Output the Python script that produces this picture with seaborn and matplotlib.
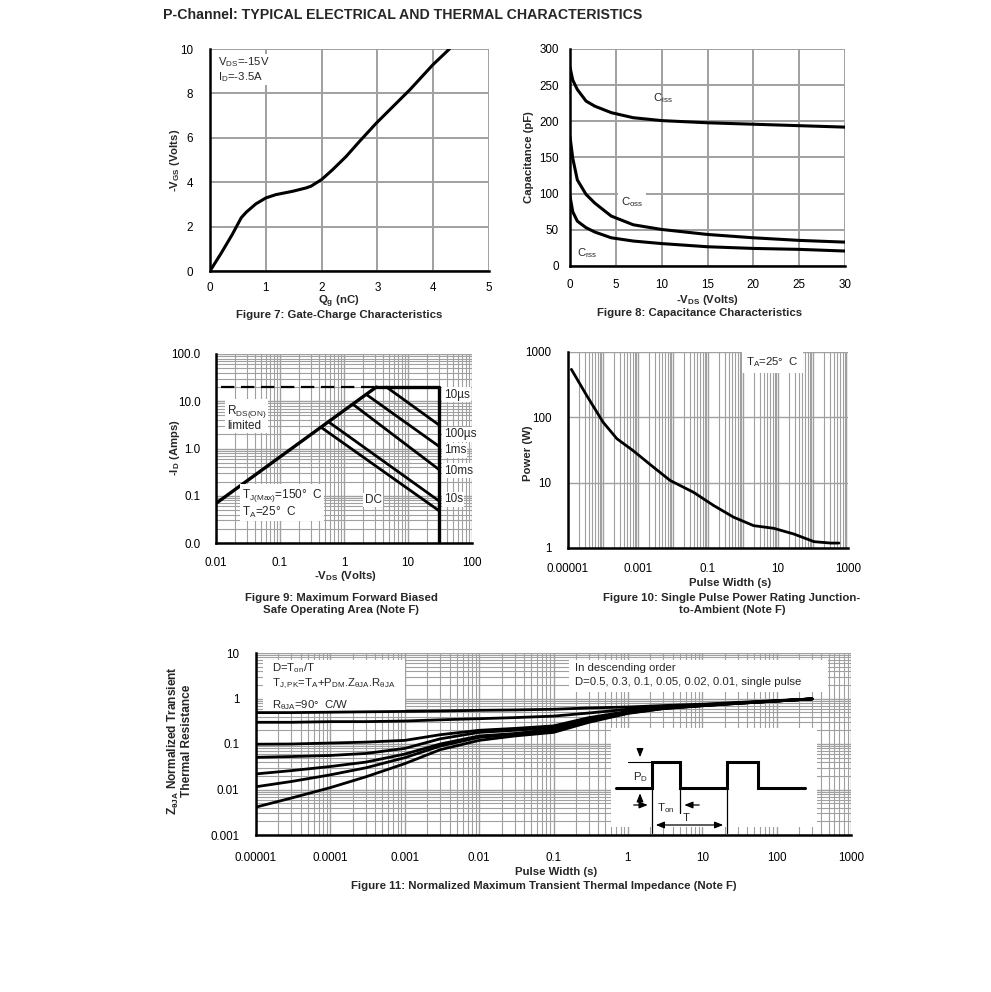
import matplotlib
matplotlib.use('Agg')
import matplotlib.pyplot as plt
from matplotlib.ticker import LogLocator, NullFormatter
from matplotlib.patches import Rectangle
import numpy as np
import seaborn as sns

sns.set_style('white')
plt.rcParams['font.family'] = ['Liberation Sans', 'DejaVu Sans']
plt.rcParams['mathtext.fontset'] = 'custom'
plt.rcParams['mathtext.rm'] = 'Liberation Sans'
plt.rcParams['mathtext.default'] = 'regular'

# Figure 7: gate charge
qg = [0, 0.2, 0.4, 0.56, 0.65, 0.82, 1.0, 1.18, 1.48, 1.72, 1.81, 2.0, 2.2,
      2.44, 2.68, 2.98, 3.28, 3.58, 3.99, 4.29]
vgs = [0, 0.8, 1.65, 2.4, 2.65, 3.02, 3.29, 3.44, 3.59, 3.74, 3.82, 4.12, 4.57,
       5.16, 5.84, 6.66, 7.41, 8.16, 9.28, 10.0]

# Figure 8: capacitance
vds = [0, 0.3, 0.8, 1.75, 2.7, 4.5, 6.9, 10, 15, 20, 25, 30]
ciss = [275, 257, 244, 228, 221, 212, 205, 201, 198, 196, 194, 192]
coss = [179, 149, 119, 99, 87, 69, 57, 50.5, 43.6, 39, 35.4, 33]
crss = [96.5, 75, 62, 53, 47, 39, 34.5, 31, 26.6, 24.3, 23, 20.7]

# Figure 9: safe operating area
rds_v = [0.01, 3.2]
rds_i = [0.069, 20]
dash_v = [0.012, 3.2]
dash_i = [20, 20]
bound_v = [3.2, 30, 30]
bound_i = [20, 20, 0.01]
pulse_v0 = [4.6, 2.25, 1.4, 0.6, 0.45]
pulse_i0 = [20, 13.8, 8.5, 3.5, 2.74]
pulse_v1 = [30, 30, 30, 30, 30]
pulse_i1 = [3.2, 1.13, 0.365, 0.079, 0.049]
soa_labels = ['10\u00b5s', '100\u00b5s', '1ms', '10ms', '10s']
soa_label_i = [13.7, 2.0, 0.91, 0.336, 0.085]

# Figure 10: single pulse power
pw_t = [1.25e-5, 3.4e-5, 1e-4, 2.5e-4, 7.2e-4, 2.75e-3, 8.3e-3, 3.9e-2, 0.145,
        0.54, 2.0, 7.6, 28, 107, 316, 550]
power = [542, 217, 84.5, 47, 31, 17.3, 10.8, 7.1, 4.47, 2.96, 2.2, 2.0, 1.64,
         1.25, 1.19, 1.19]

# Figure 11: transient thermal impedance
zt = [1e-5, 3e-5, 1e-4, 3e-4, 1e-3, 3e-3, 1e-2, 3e-2, 0.1, 0.3, 1, 3, 10, 30, 100, 300]
z_d05 = [0.49, 0.49, 0.50, 0.51, 0.52, 0.53, 0.55, 0.56, 0.58, 0.62, 0.65, 0.70, 0.75, 0.82, 0.90, 0.98]
z_d03 = [0.30, 0.30, 0.31, 0.31, 0.32, 0.34, 0.36, 0.38, 0.41, 0.48, 0.58, 0.66, 0.73, 0.80, 0.89, 0.98]
z_d01 = [0.099, 0.10, 0.105, 0.11, 0.12, 0.16, 0.20, 0.22, 0.25, 0.38, 0.52, 0.63, 0.71, 0.79, 0.88, 0.98]
z_d005 = [0.051, 0.053, 0.056, 0.062, 0.08, 0.13, 0.18, 0.20, 0.23, 0.35, 0.50, 0.62, 0.70, 0.79, 0.88, 0.98]
z_d002 = [0.022, 0.026, 0.032, 0.040, 0.060, 0.10, 0.15, 0.17, 0.21, 0.33, 0.49, 0.61, 0.70, 0.79, 0.88, 0.98]
z_d001 = [0.0115, 0.015, 0.021, 0.030, 0.050, 0.09, 0.14, 0.16, 0.20, 0.32, 0.48, 0.60, 0.70, 0.78, 0.88, 0.98]
z_single = [0.0041, 0.0065, 0.011, 0.019, 0.037, 0.075, 0.12, 0.15, 0.18, 0.30, 0.47, 0.60, 0.69, 0.78, 0.88, 0.98]

W, H = 991, 992
fig = plt.figure(figsize=(W / 100, H / 100), dpi=100)
GRID = '#a0a0a0'
TICK = 8.4
LAB = 8.2
TXT = 8.2


def place(l, t, r, b):
    return fig.add_axes([l / W, 1 - b / H, (r - l) / W, (b - t) / H])


def ftext(x, y, s, **kw):
    kw.setdefault('fontsize', LAB)
    kw.setdefault('ha', 'center')
    kw.setdefault('va', 'center')
    fig.text(x / W, 1 - y / H, s, **kw)


def style(ax, xpad=10, ypad=9):
    for s in ['top', 'right']:
        ax.spines[s].set_visible(False)
    for s in ['left', 'bottom']:
        ax.spines[s].set_color('black')
        ax.spines[s].set_linewidth(1.8)
        ax.spines[s].set_zorder(5)
    ax.tick_params(which='both', length=0, labelsize=TICK, colors='black')
    ax.tick_params(axis='x', pad=xpad)
    ax.tick_params(axis='y', pad=ypad)
    ax.set_xlabel('')
    ax.set_ylabel('')


def line(ax, x, y, **kw):
    kw.setdefault('color', 'black')
    kw.setdefault('lw', 2)
    sns.lineplot(x=x, y=y, ax=ax, sort=False, estimator=None, **kw)


def log_grid(ax, xminor=True, yminor=True):
    loc = lambda: LogLocator(base=10, subs=np.arange(2, 10), numticks=100)
    if xminor:
        ax.xaxis.set_minor_locator(loc())
    if yminor:
        ax.yaxis.set_minor_locator(loc())
    ax.xaxis.set_minor_formatter(NullFormatter())
    ax.yaxis.set_minor_formatter(NullFormatter())
    ax.grid(True, which='major', color=GRID, lw=1.0)
    if xminor:
        ax.grid(True, which='minor', axis='x', color=GRID, lw=0.8)
    if yminor:
        ax.grid(True, which='minor', axis='y', color=GRID, lw=0.8)
    ax.set_axisbelow(True)


ftext(163, 15, 'P-Channel: TYPICAL ELECTRICAL AND THERMAL CHARACTERISTICS',
      fontsize=10.2, fontweight='bold', ha='left')

# ---- Figure 7
ax = place(210, 49, 489, 271)
line(ax, qg, vgs, lw=2.2)
ax.set_xlim(0, 5)
ax.set_ylim(0, 10)
ax.set_xticks(range(6))
ax.set_yticks(range(0, 11, 2))
ax.grid(True, color=GRID, lw=1.4)
style(ax, xpad=8, ypad=12)
ax.text(0.03, 0.97, 'V$_{DS}$=-15V\nI$_D$=-3.5A', transform=ax.transAxes,
        fontsize=TXT, va='top', ha='left', linespacing=1.05,
        bbox=dict(facecolor='white', edgecolor='none', pad=1))
ftext(175, 160, '-V$_{GS}$ (Volts)', rotation=90, fontweight='bold')
ftext(339, 302, 'Q$_g$ (nC)', fontweight='bold')
ftext(339, 315, 'Figure 7: Gate-Charge Characteristics', fontweight='bold')

# ---- Figure 8
ax = place(570, 49, 845, 266)
for c in [ciss, coss, crss]:
    line(ax, vds, c, lw=2.2)
ax.set_xlim(0, 30)
ax.set_ylim(0, 300)
ax.set_xticks(range(0, 31, 5))
ax.set_yticks(range(0, 301, 50))
ax.grid(True, color=GRID, lw=1.4)
style(ax, xpad=9.5, ypad=8)
ax.text(10.1, 232, 'C$_{iss}$', fontsize=TXT, ha='center', va='center')
ax.text(6.8, 89, 'C$_{oss}$', fontsize=TXT, ha='center', va='center',
        bbox=dict(facecolor='white', edgecolor='none', pad=2))
ax.text(1.9, 18, 'C$_{rss}$', fontsize=TXT, ha='center', va='center')
ftext(529, 157, 'Capacitance (pF)', rotation=90, fontweight='bold')
ftext(707, 300, '-V$_{DS}$ (Volts)', fontweight='bold')
ftext(700, 313, 'Figure 8: Capacitance Characteristics', fontweight='bold')

# ---- Figure 9
ax = place(216, 354, 472, 543)
ax.set_xscale('log')
ax.set_yscale('log')
line(ax, rds_v, rds_i, lw=2.4)
line(ax, dash_v, dash_i, lw=1.6, linestyle=(0, (6, 3)))
line(ax, bound_v, bound_i, lw=2.4)
for v0, i0, v1, i1 in zip(pulse_v0, pulse_i0, pulse_v1, pulse_i1):
    line(ax, [v0, v1], [i0, i1], lw=2.0)
ax.set_xlim(0.01, 100)
ax.set_ylim(0.01, 100)
ax.set_xticks([0.01, 0.1, 1, 10, 100], ['0.01', '0.1', '1', '10', '100'])
ax.set_yticks([0.01, 0.1, 1, 10, 100], ['0.0', '0.1', '1.0', '10.0', '100.0'])
log_grid(ax)
style(ax, xpad=10, ypad=11)
wbox = dict(facecolor='white', edgecolor='none', pad=1)
for lab, yi in zip(soa_labels, soa_label_i):
    ax.text(36, yi, lab, fontsize=TXT + 0.3, ha='left', va='center', bbox=wbox)
ax.text(2.86, 0.081, 'DC', fontsize=TXT + 0.3, ha='center', va='center', bbox=wbox)
ax.text(0.0148, 4.5, 'R$_{DS(ON)}$\nlimited', fontsize=TXT + 0.3, ha='left',
        va='center', linespacing=0.95, bbox=wbox)
ax.text(0.0254, 0.068, 'T$_{J(Max)}$=150\u00b0  C\nT$_A$=25\u00b0  C', fontsize=TXT + 0.3,
        ha='left', va='center', linespacing=1.05, bbox=wbox)
ftext(175, 448, '-I$_D$ (Amps)', rotation=90, fontweight='bold')
ftext(345, 576, '-V$_{DS}$ (Volts)', fontweight='bold')
ftext(341, 604, 'Figure 9: Maximum Forward Biased\nSafe Operating Area (Note F)',
      fontweight='bold', linespacing=1.15)

# ---- Figure 10
ax = place(568, 352, 848, 548)
ax.set_xscale('log')
ax.set_yscale('log')
line(ax, pw_t, power, lw=2.0)
ax.set_xlim(1e-5, 1e3)
ax.set_ylim(1, 1000)
xt = [10.0 ** k for k in range(-5, 4)]
ax.set_xticks(xt, ['0.00001', '', '0.001', '', '0.1', '', '10', '', '1000'])
ax.set_yticks([1, 10, 100, 1000], ['1', '10', '100', '1000'])
log_grid(ax, xminor=True, yminor=False)
style(ax, xpad=11, ypad=12)
ax.text(0.635, 0.95, 'T$_A$=25\u00b0  C', transform=ax.transAxes, fontsize=TXT,
        ha='left', va='center', bbox=dict(facecolor='white', edgecolor='none', pad=3))
ftext(528, 453, 'Power (W)', rotation=90, fontweight='bold')
ftext(730, 583, 'Pulse Width (s)', fontweight='bold')
ftext(732, 604, 'Figure 10: Single Pulse Power Rating Junction-\nto-Ambient (Note F)',
      fontweight='bold', linespacing=1.15)

# ---- Figure 11
ax = place(256, 653, 851, 835)
ax.set_xscale('log')
ax.set_yscale('log')
for z in [z_d05, z_d03, z_d01, z_d005, z_d002, z_d001, z_single]:
    line(ax, zt, z, lw=2.0)
ax.set_xlim(1e-5, 1e3)
ax.set_ylim(1e-3, 10)
ax.set_xticks(xt, ['0.00001', '0.0001', '0.001', '0.01', '0.1', '1', '10', '100', '1000'])
ax.set_yticks([1e-3, 1e-2, 0.1, 1, 10], ['0.001', '0.01', '0.1', '1', '10'])
log_grid(ax)
style(ax, xpad=12, ypad=12)
ax.add_patch(Rectangle((0.012, 0.67), 0.238, 0.292, transform=ax.transAxes,
                       facecolor='white', edgecolor='none', zorder=1.5))
ax.add_patch(Rectangle((0.526, 0.786), 0.435, 0.176, transform=ax.transAxes,
                       facecolor='white', edgecolor='none', zorder=1.5))
ax.text(0.027, 0.915, 'D=T$_{on}$/T', transform=ax.transAxes, fontsize=TXT, va='center')
ax.text(0.027, 0.83, 'T$_{J,PK}$=T$_A$+P$_{DM}$.Z$_{\u03b8JA}$.R$_{\u03b8JA}$',
        transform=ax.transAxes, fontsize=TXT, va='center')
ax.text(0.027, 0.715, 'R$_{\u03b8JA}$=90\u00b0  C/W', transform=ax.transAxes,
        fontsize=TXT, va='center')
ax.text(0.536, 0.915, 'In descending order', transform=ax.transAxes, fontsize=TXT,
        va='center')
ax.text(0.536, 0.84, 'D=0.5, 0.3, 0.1, 0.05, 0.02, 0.01, single pulse',
        transform=ax.transAxes, fontsize=TXT, va='center')
ftext(179, 741, 'Z$_{\u03b8JA}$ Normalized Transient\nThermal Resistance', rotation=90,
      fontweight='bold', linespacing=1.0, fontsize=8.6)
ftext(556, 872, 'Pulse Width (s)', fontweight='bold')
ftext(544, 886, 'Figure 11: Normalized Maximum Transient Thermal Impedance (Note F)',
      fontweight='bold')

# pulse sketch inset (drawn in page pixel units)
wave_x = [616, 651.7, 651.7, 680, 680, 726.7, 726.7, 758.3, 758.3, 805]
wave_y = [788.3, 788.3, 761.7, 761.7, 788.3, 788.3, 761.7, 761.7, 788.3, 788.3]
ins = place(611, 728, 817, 835)
ins.set_facecolor('white')
ins.set_xlim(611, 817)
ins.set_ylim(835, 728)
ins.axis('off')
ins.add_patch(Rectangle((611, 728), 206, 99, facecolor='white', edgecolor='none', zorder=0))
ins.plot(wave_x, wave_y, color='black', lw=2.2, solid_joinstyle='miter')
for x0, y1 in [(651.7, 833), (680, 813), (726.7, 833)]:
    ins.plot([x0, x0], [788.3, y1], color='black', lw=0.9)
ins.plot([628, 651.7], [762.3, 762.3], color='black', lw=0.8)
arr = dict(arrowstyle='-|>,head_length=0.5,head_width=0.2', color='black', lw=0.9)
ins.annotate('', xy=(640, 760), xytext=(640, 747), arrowprops=arr)
ins.annotate('', xy=(640, 790.5), xytext=(640, 803), arrowprops=arr)
ins.annotate('', xy=(650.5, 805), xytext=(631, 805), arrowprops=arr)
ins.annotate('', xy=(681.5, 805), xytext=(702, 805), arrowprops=arr)
ins.annotate('', xy=(653, 825), xytext=(726, 825),
             arrowprops=dict(arrowstyle='<|-|>,head_length=0.5,head_width=0.2',
                             color='black', lw=0.9))
ins.text(641, 777, 'P$_D$', fontsize=TXT, ha='center', va='center')
ins.text(666, 808, 'T$_{on}$', fontsize=TXT, ha='center', va='center')
ins.text(686, 818.5, 'T', fontsize=TXT, ha='center', va='center')

fig.savefig('out.png', dpi=100)
